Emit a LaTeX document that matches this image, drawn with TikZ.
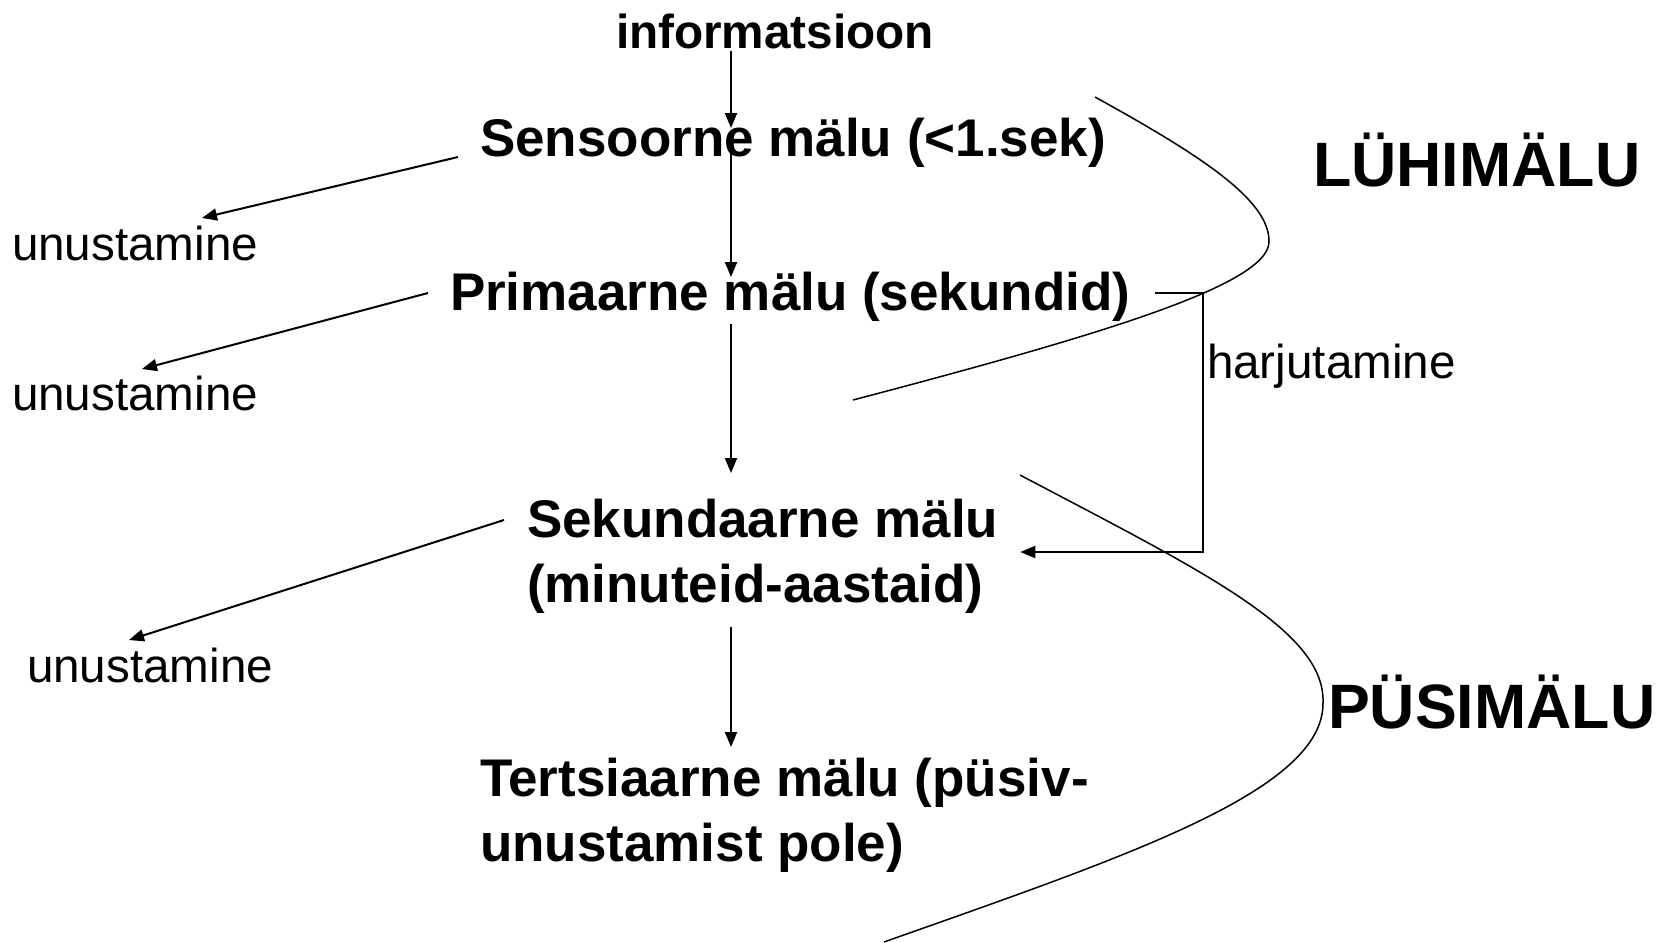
\documentclass[tikz,border=0pt]{standalone}
\usepackage{fontspec}
\setmainfont{Liberation Sans}
\usetikzlibrary{arrows.meta}
\begin{document}
\begin{tikzpicture}[x=0.5pt,y=-0.5pt,
  lbl/.style={inner sep=0pt, outer sep=0pt, anchor=base west},
  stage/.style={lbl, font=\fontsize{26.5}{32.5}\selectfont\bfseries, align=left},
  infotext/.style={lbl, font=\fontsize{23.85}{28}\selectfont\bfseries},
  plain/.style={lbl, font=\fontsize{23.8}{28}\selectfont},
  region/.style={lbl, font=\fontsize{31.35}{36}\selectfont\bfseries},
  arr/.style={line width=1pt, -{Triangle[length=7.5pt,width=6pt]}},
  bound/.style={line width=0.75pt}]

\path[use as bounding box] (0,0) rectangle (1661,943);

% texts
\node[infotext] (info) at (616,48) {informatsioon};
\node[stage] (sens) at (480,156) {Sensoorne mälu (<1.sek)};
\node[stage] (prim) at (450,310) {Primaarne mälu (sekundid)};
\node[stage] (sek) at (527,602) {Sekundaarne mälu\\(minuteid-aastaid)};
\node[stage] (tert) at (480,861) {Tertsiaarne mälu (püsiv-\\unustamist pole)};

\node[plain] (u1) at (12,260) {unustamine};
\node[plain] (u2) at (12,410) {unustamine};
\node[plain] (u3) at (27,682) {unustamine};
\node[plain] (hj) at (1207,378) {harjutamine};

\node[region] (lyhi) at (1313,186) {LÜHIMÄLU};
\node[region] (pysi) at (1328,728) {PÜSIMÄLU};

% main column
\coordinate (col) at (731,0);
\draw[arr, shorten <=1.5pt, shorten >=14pt] (col |- info.base) -- (col |- sens.base);
\draw[arr, shorten <=-3pt, shorten >=16.5pt] (col |- sens.base) -- (col |- prim.base);
\draw[arr, shorten <=7pt, shorten >=64.5pt] (col |- prim.base) -- (col |- sek.base);
\draw[arr, shorten <=12.5pt, shorten >=57pt] (col |- sek.base) -- (col |- tert.base);

% forgetting
\draw[arr] ([shift={(-22,1)}]sens.base west) -- ([shift={(190,-42)}]u1.base west);
\draw[arr] ([shift={(-22,-17)}]prim.base west) -- ([shift={(130,-41)}]u2.base west);
\draw[arr] ([shift={(-23,-82)}]sek.base west) -- ([shift={(102,-42)}]u3.base west);

% rehearsal loop
\coordinate (rj) at (1203,552);
\draw[arr] ([shift={(25,-17)}]prim.base east) -| (rj) -- ([shift={(22,-50)}]sek.base east);

% boundaries
\draw[bound] (1095,97) .. controls (1200,155) and (1270,200) .. (1269,242)
             .. controls (1268,285) and (1100,335) .. (853,400);
\draw[bound] (1020,475) .. controls (1200,570) and (1325,630) .. (1323,702)
             .. controls (1325,790) and (1130,855) .. (884,942);
\end{tikzpicture}
\end{document}
